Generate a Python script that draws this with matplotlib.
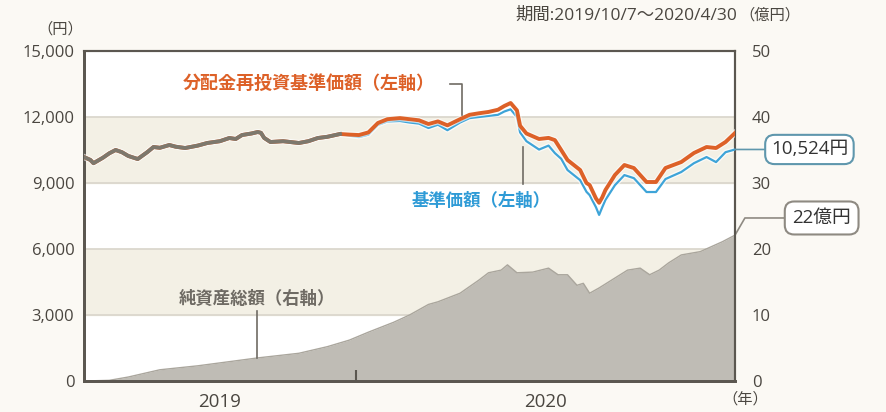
import matplotlib
matplotlib.use('Agg')
import matplotlib.pyplot as plt
import matplotlib.transforms as mtransforms
import pandas as pd
import numpy as np

plt.rcParams['font.family'] = ['Open Sans', 'Noto Sans CJK JP', 'DejaVu Sans']

# 基準価額 / 分配金再投資基準価額 (円)
line_dates = ['2019-10-07', '2019-10-09', '2019-10-10', '2019-10-13', '2019-10-15',
              '2019-10-17', '2019-10-19', '2019-10-21', '2019-10-24', '2019-10-27',
              '2019-10-29', '2019-10-31', '2019-11-03', '2019-11-05', '2019-11-08',
              '2019-11-12', '2019-11-15', '2019-11-19', '2019-11-22', '2019-11-24',
              '2019-11-26', '2019-11-29', '2019-12-01', '2019-12-02', '2019-12-03',
              '2019-12-05', '2019-12-09', '2019-12-14', '2019-12-17', '2019-12-20',
              '2019-12-23', '2019-12-27', '2019-12-30', '2020-01-02', '2020-01-05',
              '2020-01-08', '2020-01-11', '2020-01-15', '2020-01-18', '2020-01-21',
              '2020-01-24', '2020-01-27', '2020-01-30', '2020-02-03', '2020-02-06',
              '2020-02-09', '2020-02-12', '2020-02-15', '2020-02-17', '2020-02-19',
              '2020-02-21', '2020-02-22', '2020-02-24', '2020-02-28', '2020-03-02',
              '2020-03-04', '2020-03-06', '2020-03-08', '2020-03-12', '2020-03-14',
              '2020-03-15', '2020-03-17', '2020-03-18', '2020-03-19', '2020-03-20',
              '2020-03-23', '2020-03-26', '2020-03-29', '2020-04-02', '2020-04-05',
              '2020-04-08', '2020-04-13', '2020-04-17', '2020-04-21', '2020-04-24',
              '2020-04-27', '2020-04-30']
nav = [10180, 10050, 9900, 10150, 10350, 10500, 10400, 10230, 10090, 10400,
       10636, 10600, 10727, 10650, 10590, 10700, 10818, 10900, 11045, 11000,
       11180, 11250, 11318, 11280, 11050, 10863, 10900, 10818, 10900, 11045,
       11100, 11227, 11150, 11090, 11200, 11640, 11800, 11820, 11750, 11700,
       11500, 11650, 11400, 11750, 11950, 12000, 12050, 12100, 12250, 12350,
       12000, 11300, 10900, 10520, 10700, 10360, 10100, 9590, 9130, 8600,
       8450, 7900, 7550, 7900, 8230, 8900, 9360, 9220, 8590, 8590,
       9180, 9500, 9900, 10180, 9950, 10400, 10524]
nav_reinv = [10180, 10050, 9900, 10150, 10350, 10500, 10400, 10230, 10090, 10400,
             10636, 10600, 10727, 10650, 10590, 10700, 10818, 10900, 11045, 11000,
             11180, 11250, 11318, 11280, 11050, 10863, 10900, 10818, 10900, 11045,
             11100, 11227, 11200, 11180, 11300, 11727, 11900, 11950, 11900, 11850,
             11680, 11800, 11620, 11900, 12100, 12170, 12230, 12330, 12500, 12636,
             12300, 11600, 11250, 11000, 11050, 10950, 10500, 10045, 9590, 9000,
             8909, 8300, 8100, 8350, 8680, 9363, 9818, 9680, 9045, 9045,
             9682, 9954, 10363, 10636, 10590, 10863, 11272]

# 純資産総額 (億円)
asset_dates = ['2019-10-07', '2019-10-15', '2019-10-21', '2019-10-31', '2019-11-12',
               '2019-12-01', '2019-12-14', '2019-12-23', '2019-12-30', '2020-01-05',
               '2020-01-13', '2020-01-18', '2020-01-21', '2020-01-24', '2020-01-27',
               '2020-02-03', '2020-02-09', '2020-02-12', '2020-02-16', '2020-02-18',
               '2020-02-21', '2020-02-26', '2020-03-02', '2020-03-05', '2020-03-08',
               '2020-03-11', '2020-03-13', '2020-03-15', '2020-03-18', '2020-03-23',
               '2020-03-27', '2020-03-31', '2020-04-03', '2020-04-06', '2020-04-09',
               '2020-04-13', '2020-04-19', '2020-04-26', '2020-04-30']
assets = [0, 0.1, 0.6, 1.7, 2.3, 3.5, 4.2, 5.2, 6.2, 7.4,
          8.9, 10.0, 10.8, 11.6, 12.0, 13.3, 15.3, 16.4, 16.8, 17.6,
          16.4, 16.5, 17.1, 16.1, 16.1, 14.5, 14.8, 13.3, 14.1, 15.6,
          16.8, 17.1, 16.1, 16.8, 17.9, 19.1, 19.6, 21.1, 22.1]

left_ticks = [0, 3000, 6000, 9000, 12000, 15000]
right_ticks = [0, 10, 20, 30, 40, 50]
year_labels = ['2019', '2020']

ld = pd.to_datetime(line_dates)
ad = pd.to_datetime(asset_dates)
nav = np.array(nav)
nav_reinv = np.array(nav_reinv)

bg = '#fbf9f4'
band = '#f3f0e5'
dark = '#4a4640'

fig = plt.figure(figsize=(8.87, 4.12), dpi=100, facecolor=bg)
ax = fig.add_axes([84 / 887, 1 - 381 / 412, 651 / 887, 330 / 412])
ax2 = ax.twinx()

x0, x1 = ld[0], ld[-1]
ax.set_xlim(x0, x1)
ax.set_ylim(0, 15000)
ax2.set_ylim(0, 50)
ratio = 15000 / 50

# background bands and grid drawn on the right axes (behind everything)
ax2.patch.set_visible(True)
ax2.patch.set_facecolor('white')
for i in range(len(left_ticks) - 1):
    if i % 2 == 1:
        ax2.axhspan(left_ticks[i] / ratio, left_ticks[i + 1] / ratio, color=band, zorder=0)
for t in left_ticks[1:-1]:
    ax2.axhline(t / ratio, color='#d9d5cb', lw=1.2, zorder=0.5)

# net assets area (right axis)
ax2.fill_between(ad, assets, 0, color='#bfbcb5', lw=0, zorder=1)
ax2.plot(ad, assets, color='#aaa69d', lw=1, zorder=1)

# lines on left axes, above the area
ax.set_zorder(ax2.get_zorder() + 1)
ax.patch.set_visible(False)

ax.plot(ld, nav, color='white', lw=3.5, alpha=0.7, zorder=2.5)
ax.plot(ld, nav, color='#3ea4d8', lw=1.6, zorder=3)
ax.plot(ld, nav_reinv, color='white', lw=4.5, alpha=0.6, zorder=3.5)
ax.plot(ld, nav_reinv, color='#dd6128', lw=2.8, zorder=4)
same = np.where(nav == nav_reinv)[0]
n_same = same[-1] + 1
ax.plot(ld[:n_same], nav[:n_same], color='#7d786d', lw=2.8, zorder=5)

# spines and ticks
for a in (ax, ax2):
    for s in a.spines.values():
        s.set_color('#5b5750')
    a.spines['left'].set_linewidth(2)
    a.spines['bottom'].set_linewidth(2)
    a.spines['top'].set_linewidth(1.5)
    a.spines['right'].set_linewidth(1.5)
ax.set_yticks(left_ticks)
ax.set_yticklabels([f'{t:,}' for t in left_ticks])
ax2.set_yticks(right_ticks)
ax2.set_yticklabels([str(t) for t in right_ticks])
ax.tick_params(axis='y', length=0, pad=7, labelsize=12, labelcolor=dark)
ax2.tick_params(axis='y', length=0, pad=12, labelsize=12, labelcolor=dark)

# year boundary tick and year labels
ax.set_xticks([pd.Timestamp('2020-01-01')])
ax.set_xticklabels([''])
ax.tick_params(axis='x', direction='in', length=8, width=1.5, color='#5b5750')
bounds = [x0, pd.Timestamp('2020-01-01'), x1]
trans_x = mtransforms.blended_transform_factory(ax.transData, ax.transAxes)
for i, lab in enumerate(year_labels):
    mid = bounds[i] + (bounds[i + 1] - bounds[i]) / 2
    ax.text(mid, -0.037, lab, transform=trans_x, ha='center', va='top', fontsize=13.5, color=dark)
ax.text(1.015, -0.035, '（年）', transform=ax.transAxes, ha='center', va='top', fontsize=11, color=dark)

# axis unit texts
fig.text(83 / 887, 1 - 30 / 412, '（円）', ha='right', va='center', fontsize=11, color=dark)
fig.text(737 / 887, 1 - 16 / 412, '期間:2019/10/7～2020/4/30', ha='right', va='center',
         fontsize=12.5, color=dark)
fig.text(739 / 887, 1 - 16 / 412, '（億円）', ha='left', va='center', fontsize=11, color=dark)

# series labels with connectors
gray_line = '#6f6b64'
ax.text(0.345, 0.9, '分配金再投資基準価額（左軸）', transform=ax.transAxes, ha='center', va='center',
        fontsize=13, color='#dd6128', fontweight='bold')
ax.plot([0.562, 0.58, 0.58], [0.9, 0.9, 0.805], transform=ax.transAxes, color=gray_line, lw=1.2,
        zorder=6)
ax.text(0.61, 0.545, '基準価額（左軸）', transform=ax.transAxes, ha='center', va='center',
        fontsize=12.5, color='#2f9bd6', fontweight='bold')
ax.plot([0.674, 0.674], [0.598, 0.71], transform=ax.transAxes, color=gray_line, lw=1.2, zorder=6)
ax.text(0.265, 0.25, '純資産総額（右軸）', transform=ax.transAxes, ha='center', va='center',
        fontsize=12.5, color='#6f6b64', fontweight='bold')
ax.plot([0.266, 0.266], [0.212, 0.07], transform=ax.transAxes, color=gray_line, lw=1.2, zorder=6)

# end value callouts
trans_l = mtransforms.blended_transform_factory(ax.transAxes, ax.transData)
ax.annotate(f'{nav[-1]:,}円', xy=(1.0, nav[-1]), xycoords=trans_l,
            xytext=(1.055, nav[-1]), textcoords=trans_l, ha='left', va='center',
            fontsize=13.5, color='#333333', annotation_clip=False,
            bbox=dict(boxstyle='round,pad=0.3,rounding_size=0.5', fc='white', ec='#5f97ad', lw=1.5),
            arrowprops=dict(arrowstyle='-', color='#5f97ad', lw=1.2, shrinkA=0, shrinkB=0))
trans_r = mtransforms.blended_transform_factory(ax2.transAxes, ax2.transData)
ax2.annotate(f'{round(assets[-1])}億円', xy=(1.0, assets[-1]), xycoords=trans_r,
             xytext=(1.088, assets[-1] + 2.6), textcoords=trans_r, ha='left', va='center',
             fontsize=13.5, color='#333333', annotation_clip=False,
             bbox=dict(boxstyle='round,pad=0.4,rounding_size=0.5', fc='white', ec='#8e8a82', lw=1.5),
             arrowprops=dict(arrowstyle='-', color='#8e8a82', lw=1.2, shrinkA=0, shrinkB=0,
                             connectionstyle='angle,angleA=0,angleB=60,rad=0'))

fig.savefig('out.png', dpi=100, facecolor=bg)
